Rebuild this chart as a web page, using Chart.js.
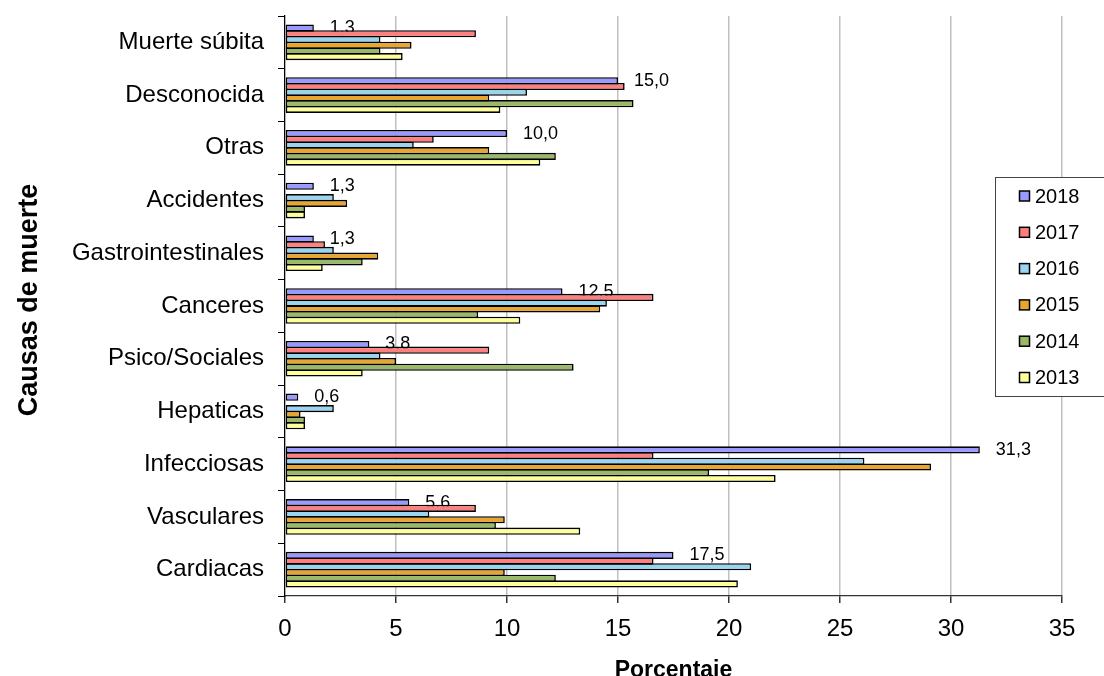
<!DOCTYPE html>
<html>
<head>
<meta charset="utf-8">
<script src="https://cdn.jsdelivr.net/npm/chart.js@4.4.1/dist/chart.umd.min.js"></script>
<style>
  html, body { margin: 0; padding: 0; background: #ffffff; }
  #wrap { width: 1104px; height: 676px; position: relative; }
</style>
</head>
<body>
<div id="wrap"><canvas id="c" width="1104" height="676"></canvas></div>
<script>
// Causes of death, top to bottom
const causas = ['Muerte súbita', 'Desconocida', 'Otras', 'Accidentes', 'Gastrointestinales',
  'Canceres', 'Psico/Sociales', 'Hepaticas', 'Infecciosas', 'Vasculares', 'Cardiacas'];

// Series names
const years = ['2018', '2017', '2016', '2015', '2014', '2013'];

// Percentage per cause and year (null = no cases)
const v2018 = [1.3, 15.0, 10.0, 1.3, 1.3, 12.5, 3.8, 0.6, 31.3, 5.6, 17.5];
const v2017 = [8.6, 15.3, 6.7, null, 1.8, 16.6, 9.2, null, 16.6, 8.6, 16.6];
const v2016 = [4.3, 10.9, 5.8, 2.2, 2.2, 14.5, 4.3, 2.2, 26.1, 6.5, 21.0];
const v2015 = [5.7, 9.2, 9.2, 2.8, 4.2, 14.2, 5.0, 0.7, 29.1, 9.9, 9.9];
const v2014 = [4.3, 15.7, 12.2, 0.9, 3.5, 8.7, 13.0, 0.9, 19.1, 9.5, 12.2];
const v2013 = [5.3, 9.7, 11.5, 0.9, 1.7, 10.6, 3.5, 0.9, 22.1, 13.3, 20.4];

// Axis ticks
const xTicks = [0, 5, 10, 15, 20, 25, 30, 35];

const seriesValues = [v2018, v2017, v2016, v2015, v2014, v2013];
const seriesColors = ['#9999FF', '#FF7F7F', '#99D5F0', '#E8A530', '#99B966', '#FFFF99'];

const FONT = "'Liberation Sans', Arial, sans-serif";

// Value labels for the 2018 series, drawn beneath the bars
const valueLabels = {
  id: 'valueLabels',
  beforeDatasetsDraw(chart) {
    const ctx = chart.ctx;
    const meta = chart.getDatasetMeta(0);
    const data = chart.data.datasets[0].data;
    ctx.save();
    ctx.font = '18px ' + FONT;
    ctx.fillStyle = '#000';
    ctx.textAlign = 'left';
    ctx.textBaseline = 'middle';
    meta.data.forEach((bar, i) => {
      const v = data[i];
      if (v == null) return;
      ctx.fillText(v.toFixed(1).replace('.', ','), bar.x + 16, bar.y);
    });
    ctx.restore();
  }
};

// Axis titles and the boxed legend
const decorations = {
  id: 'decorations',
  afterDraw(chart) {
    const ctx = chart.ctx;
    const area = chart.chartArea;
    ctx.save();
    ctx.fillStyle = '#000';
    ctx.textAlign = 'center';
    ctx.textBaseline = 'middle';
    ctx.save();
    ctx.font = 'bold 27px ' + FONT;
    ctx.translate(30, 300);
    ctx.rotate(-Math.PI / 2);
    ctx.fillText('Causas de muerte', 0, 0);
    ctx.restore();
    ctx.font = 'bold 23px ' + FONT;
    ctx.textBaseline = 'alphabetic';
    ctx.fillText('Porcentaje', (area.left + area.right) / 2, 677);

    // legend box
    const bx = 995, by = 177, bw = 130, bh = 219;
    ctx.fillStyle = '#fff';
    ctx.fillRect(bx, by, bw, bh);
    ctx.strokeStyle = '#444';
    ctx.lineWidth = 1;
    ctx.strokeRect(bx + 0.5, by + 0.5, bw, bh);
    ctx.font = '20px ' + FONT;
    ctx.textAlign = 'left';
    ctx.textBaseline = 'middle';
    chart.data.datasets.forEach((ds, i) => {
      const cy = 196 + i * 36.3;
      ctx.fillStyle = ds.backgroundColor;
      ctx.fillRect(1019.5, cy - 5, 10, 10);
      ctx.strokeStyle = '#000';
      ctx.lineWidth = 1.5;
      ctx.strokeRect(1019.5, cy - 5, 10, 10);
      ctx.fillStyle = '#000';
      ctx.fillText(ds.label, 1035, cy + 1);
    });
    ctx.restore();
  }
};

new Chart(document.getElementById('c'), {
  type: 'bar',
  data: {
    labels: causas,
    datasets: years.map((y, i) => ({
      label: y,
      data: seriesValues[i],
      backgroundColor: seriesColors[i],
      borderColor: '#000',
      borderWidth: 1.6,
      borderSkipped: false,
      categoryPercentage: 0.65,
      barPercentage: 1.25
    }))
  },
  options: {
    indexAxis: 'y',
    responsive: false,
    animation: false,
    layout: { padding: { top: 16, right: 42, left: 0, bottom: 0 } },
    plugins: {
      legend: { display: false },
      tooltip: { enabled: false }
    },
    scales: {
      x: {
        min: 0,
        max: 35,
        afterBuildTicks(scale) { scale.ticks = xTicks.map(v => ({ value: v })); },
        afterFit(scale) { scale.height = 80; },
        grid: {
          color: c => (c.tick && c.tick.value === 0) ? 'rgba(0,0,0,0)' : '#C0C0C0',
          lineWidth: 1.5,
          tickColor: '#333',
          tickLength: 7
        },
        border: { display: true, color: '#333', width: 1.3 },
        ticks: {
          color: '#000',
          font: { family: FONT, size: 24 },
          padding: 12,
          callback: v => String(v)
        }
      },
      y: {
        afterFit(scale) {
          scale.width = 285;
          scale.paddingTop = 0;
          scale.paddingBottom = 0;
        },
        grid: {
          offset: true,
          drawOnChartArea: false,
          tickColor: '#000',
          tickLength: 7
        },
        border: { display: true, color: '#000', width: 1.3 },
        ticks: {
          color: '#000',
          font: { family: FONT, size: 24 },
          padding: 14
        }
      }
    }
  },
  plugins: [valueLabels, decorations]
});
</script>
</body>
</html>
